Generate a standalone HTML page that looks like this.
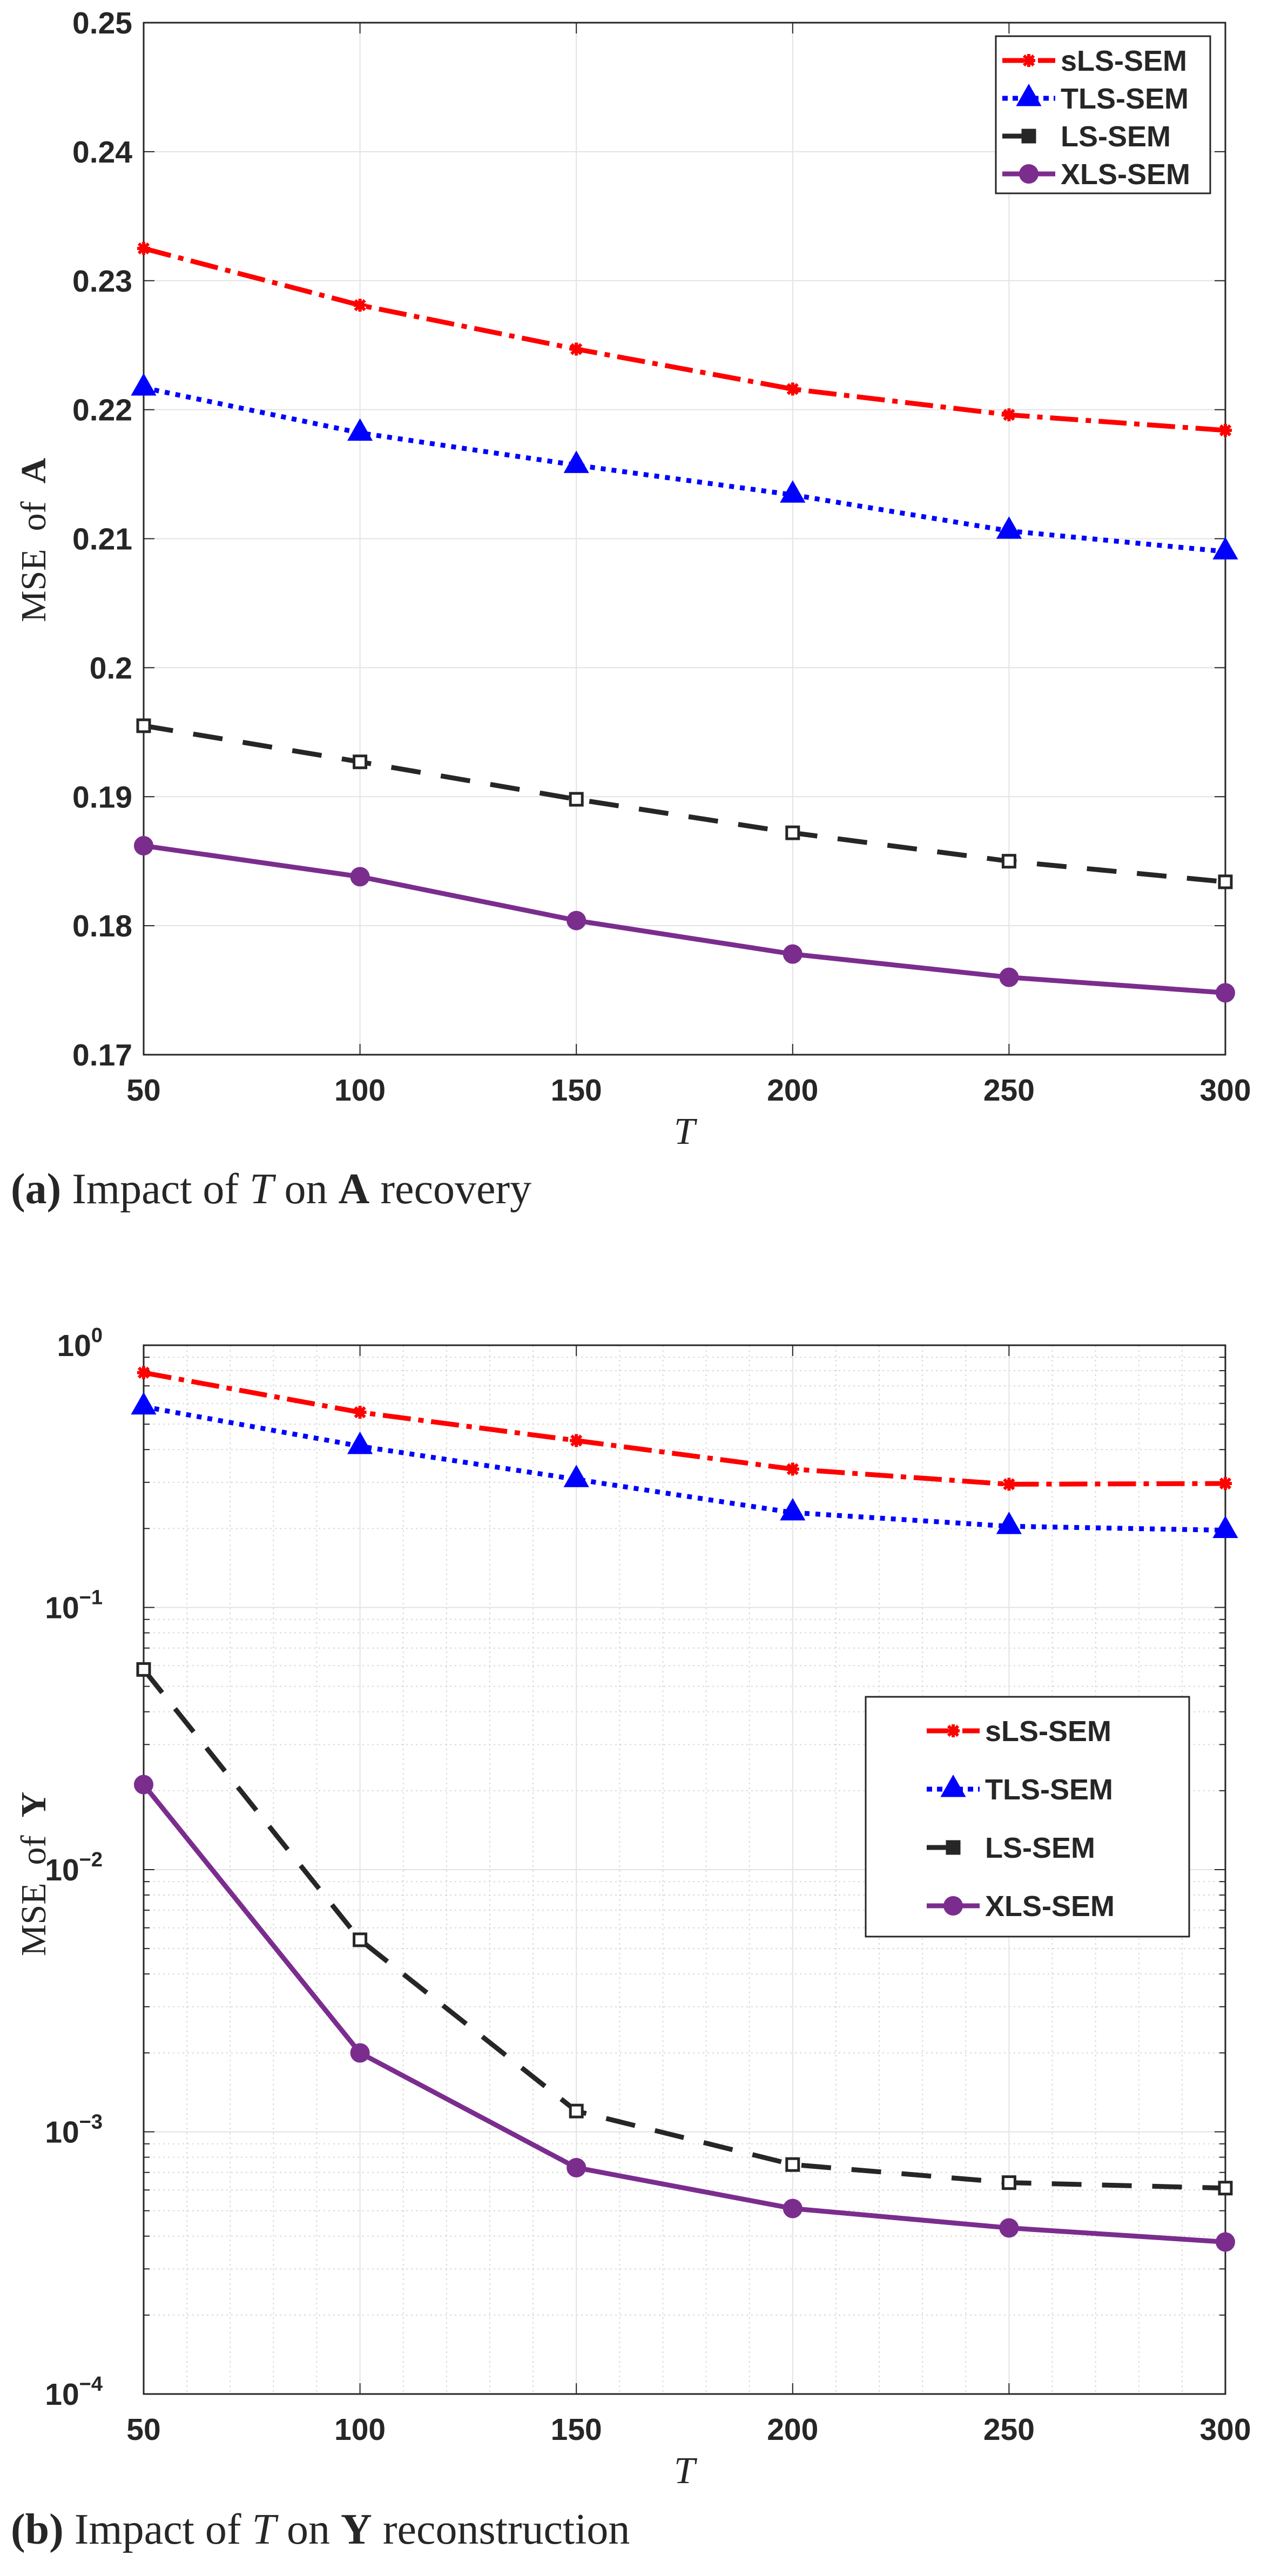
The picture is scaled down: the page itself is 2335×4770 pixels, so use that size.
<!DOCTYPE html>
<html><head><meta charset="utf-8"><style>
html,body{margin:0;padding:0;background:#fff}
svg{display:block}
.tick{font-family:"Liberation Sans",Helvetica,sans-serif;font-weight:bold;font-size:57px;fill:#262626}
.ser{font-family:"Liberation Serif",serif;fill:#262626}
.leg{font-family:"Liberation Sans",sans-serif;font-weight:bold;font-size:54px;fill:#262626}
</style></head><body>
<svg id="svg" width="2335" height="4770" viewBox="0 0 2335 4770" xmlns="http://www.w3.org/2000/svg">
<g id="ga"></g>
<g id="gb"></g>
<text class="ser" x="20" y="2228" font-size="80"><tspan font-weight="bold">(a)</tspan> Impact of <tspan font-style="italic">T</tspan> on <tspan font-weight="bold">A</tspan> recovery</text>
<text class="ser" x="20" y="4710" font-size="80"><tspan font-weight="bold">(b)</tspan> Impact of <tspan font-style="italic">T</tspan> on <tspan font-weight="bold">Y</tspan> reconstruction</text>
</svg>
<script>
const categories=[50,100,150,200,250,300];
const seriesNames=["sLS-SEM","TLS-SEM","LS-SEM","XLS-SEM"];
const aSLS=[0.2325,0.2281,0.2247,0.2216,0.2196,0.2184];
const aTLS=[0.2217,0.2182,0.2157,0.2134,0.2106,0.2090];
const aLS=[0.1955,0.1927,0.1898,0.1872,0.1850,0.1834];
const aXLS=[0.1862,0.1838,0.1804,0.1778,0.1760,0.1748];
const bSLS=[0.786,0.555,0.433,0.337,0.295,0.297];
const bTLS=[0.583,0.412,0.308,0.230,0.204,0.197];
const bLS=[0.058,0.0054,0.0012,0.00075,0.00064,0.00061];
const bXLS=[0.0211,0.0020,0.00073,0.00051,0.00043,0.00038];
const aTicks=[0.17,0.18,0.19,0.2,0.21,0.22,0.23,0.24,0.25];
const aTickLabels=["0.17","0.18","0.19","0.2","0.21","0.22","0.23","0.24","0.25"];
const bExps=[-4,-3,-2,-1,0];

const NS="http://www.w3.org/2000/svg";
function mk(p,t,at){const e=document.createElementNS(NS,t);for(const k in at)e.setAttribute(k,at[k]);p.appendChild(e);return e;}
const L=266,R=2269;
const xs=v=>L+(v-50)/(250)*(R-L);
const styles=[
 {c:"#ff0000",d:"52 14 10 14",m:"star"},
 {c:"#0000ff",d:"9 11",m:"tri"},
 {c:"#262626",d:"55 38",m:"sq"},
 {c:"#7b2d8e",d:"",m:"circ"}];
function marker(g,m,x,y,c,i,n){
 let e;
 if(m=="star"){e=mk(g,"path",{d:`M${x-9} ${y-9}L${x+9} ${y+9}M${x+9} ${y-9}L${x-9} ${y+9}M${x-12} ${y}L${x+12} ${y}M${x} ${y-12}L${x} ${y+12}`,stroke:c,"stroke-width":6,fill:"none"});}
 else if(m=="tri"){e=mk(g,"path",{d:`M${x} ${y-24}L${x+21} ${y+13}L${x-21} ${y+13}Z`,fill:c,stroke:c,"stroke-width":3});}
 else if(m=="sq"){e=mk(g,"rect",{x:x-11,y:y-11,width:22,height:22,fill:(i==n)?c:"#fff",stroke:c,"stroke-width":5});}
 else {e=mk(g,"circle",{cx:x,cy:y,r:17,fill:c,stroke:c,"stroke-width":2});}
 
 
}
function series(g,vals,ys,si){
 const s=styles[si];
 const pts=vals.map((v,i)=>xs(categories[i])+","+ys(v)).join(" ");
 const pl=mk(g,"polyline",{points:pts,fill:"none",stroke:s.c,"stroke-width":9,"stroke-dasharray":s.d||"none","stroke-linejoin":"round"});
 
 
 vals.forEach((v,i)=>marker(g,s.m,xs(categories[i]),ys(v),s.c,i,-1));
}
function legend(g,x0,y0,w,h,lx,ly,dy){
 const r=mk(g,"rect",{x:x0,y:y0,width:w,height:h,fill:"#fff",stroke:"#262626","stroke-width":3});
 
 
 const legDash=["40 8 10 8","10 9","40 100",""];
 seriesNames.forEach((n,i)=>{const s=styles[i],y=ly+i*dy;
  mk(g,"line",{x1:lx,x2:lx+98,y1:y,y2:y,stroke:s.c,"stroke-width":9,"stroke-dasharray":legDash[i]||"none"});
  marker(g,s.m,lx+49,y,s.c,1,1);
  const t=mk(g,"text",{x:lx+108,y:y+19,class:"leg"});t.textContent=n;
  
  
 });
}
function xaxis(g,T,B){
 categories.forEach(c=>{const x=xs(c);
  mk(g,"line",{x1:x,x2:x,y1:T,y2:B,stroke:"#e3e3e3","stroke-width":2});
  mk(g,"line",{x1:x,x2:x,y1:B,y2:B-20,stroke:"#262626","stroke-width":2});
  mk(g,"line",{x1:x,x2:x,y1:T,y2:T+20,stroke:"#262626","stroke-width":2});
  const t=mk(g,"text",{x:x,y:B+85,class:"tick","text-anchor":"middle"});t.textContent=c;
  
  });
 const t=mk(g,"text",{x:(L+R)/2,y:B+165,class:"ser","font-size":"70","font-style":"italic","text-anchor":"middle"});t.textContent="T";
 
 
}
// Chart A
(function(){
 const g=document.getElementById('ga'),T=42,B=1953;
 const ys=v=>B-(v-0.17)/0.08*(B-T);
 aTicks.forEach((v,i)=>{const y=ys(v);
  mk(g,"line",{x1:L,x2:R,y1:y,y2:y,stroke:"#e3e3e3","stroke-width":2});
  mk(g,"line",{x1:L,x2:L+20,y1:y,y2:y,stroke:"#262626","stroke-width":2});
  mk(g,"line",{x1:R,x2:R-20,y1:y,y2:y,stroke:"#262626","stroke-width":2});
  const t=mk(g,"text",{x:245,y:y+20,class:"tick","text-anchor":"end"});t.textContent=aTickLabels[i];
  
  });
 xaxis(g,T,B);
 mk(g,"rect",{x:L,y:T,width:R-L,height:B-T,fill:"none",stroke:"#262626","stroke-width":3});
 const yl=mk(g,"text",{x:0,y:0,class:"ser","font-size":"66",transform:"translate(84,1000) rotate(-90)","text-anchor":"middle"});
 yl.innerHTML='MSE&#160;&#160;of&#160;&#160;<tspan font-weight="bold">A</tspan>';
 
 
 [aSLS,aTLS,aLS,aXLS].forEach((v,i)=>series(g,v,ys,i));
 legend(g,1844,67,397,291,1856,112,70);
})();
// Chart B
(function(){
 const g=document.getElementById('gb'),T=2491,B=4433;
 const ys=v=>B-(Math.log10(v)+4)/4*(B-T);
 bExps.forEach(e=>{
  for(let k=2;k<10&&e<0;k++){const y=ys(k*Math.pow(10,e));
   mk(g,"line",{x1:L,x2:R,y1:y,y2:y,stroke:"#d8d8d8","stroke-width":2,"stroke-dasharray":"3 6"});
   mk(g,"line",{x1:L,x2:L+11,y1:y,y2:y,stroke:"#262626","stroke-width":2});
   mk(g,"line",{x1:R,x2:R-11,y1:y,y2:y,stroke:"#262626","stroke-width":2});}
  const y=ys(Math.pow(10,e));
  mk(g,"line",{x1:L,x2:R,y1:y,y2:y,stroke:"#e3e3e3","stroke-width":2});
  mk(g,"line",{x1:L,x2:L+20,y1:y,y2:y,stroke:"#262626","stroke-width":2});
  mk(g,"line",{x1:R,x2:R-20,y1:y,y2:y,stroke:"#262626","stroke-width":2});
  const t=mk(g,"text",{x:190,y:y+20,class:"tick","text-anchor":"end","font-weight":"normal"});
  t.innerHTML='10<tspan dy="-26" font-size="38">'+(e<0?'\u2212'+(-e):e)+'</tspan>';
  
  });
 categories.forEach((c,i)=>{if(i<5)for(let k=1;k<5;k++){const x=xs(c+k*10);
  mk(g,"line",{x1:x,x2:x,y1:T,y2:B,stroke:"#d8d8d8","stroke-width":2,"stroke-dasharray":"3 6"});}});
 xaxis(g,T,B);
 mk(g,"rect",{x:L,y:T,width:R-L,height:B-T,fill:"none",stroke:"#262626","stroke-width":3});
 const yl=mk(g,"text",{x:0,y:0,class:"ser","font-size":"66",transform:"translate(84,3470) rotate(-90)","text-anchor":"middle"});
 yl.innerHTML='MSE&#160;&#160;of&#160;&#160;<tspan font-weight="bold">Y</tspan>';
 
 
 [bSLS,bTLS,bLS,bXLS].forEach((v,i)=>series(g,v,ys,i));
 legend(g,1603,3142,599,444,1716,3205,108);
})();
</script>
</body></html>
